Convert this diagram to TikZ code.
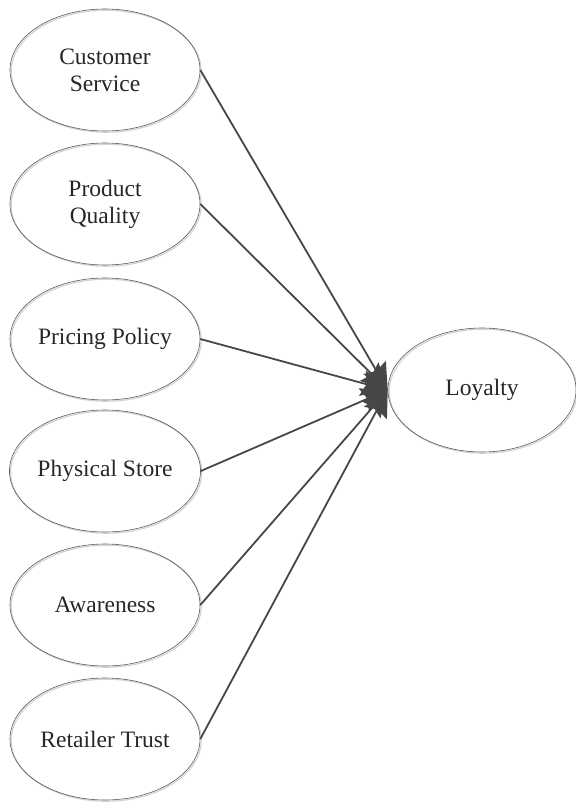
\documentclass[tikz,border=0pt]{standalone}
\usepackage{fontspec}
\setmainfont{Liberation Serif}
\usetikzlibrary{shapes.geometric,arrows.meta}
\tikzset{
  cons/.style={ellipse, draw=gray!70!black, line width=0.6pt, minimum width=190pt, minimum height=122pt, inner sep=0pt, align=center, font=\fontsize{23.5}{27}\selectfont, text=black!85,
    preaction={draw=gray!35, line width=1.2pt, transform canvas={shift={(1.2pt,-1.2pt)}}}},
  link/.style={draw=black!72, line width=1.8pt, -{Stealth[length=26pt,width=26pt,inset=4pt]}}
}
\begin{document}
\begin{tikzpicture}[x=1pt,y=-1pt]
\useasboundingbox (0,0) rectangle (575,802);
\node[cons] (cs) at (105,70) {Customer\\Service};
\node[cons] (pq) at (105,204) {Product\\Quality};
\node[cons] (pp) at (105,339) {Pricing Policy};
\node[cons] (ps) at (105,471) {Physical Store};
\node[cons] (aw) at (105,605) {Awareness};
\node[cons] (rt) at (105,739) {Retailer Trust};
\node[cons, minimum width=188pt, minimum height=124pt] (loy) at (482,390) {Loyalty};
\foreach \s in {cs,pq,pp,ps,aw,rt}{
  \draw[link] (\s.east) -- (loy.west);
}
\end{tikzpicture}
\end{document}
